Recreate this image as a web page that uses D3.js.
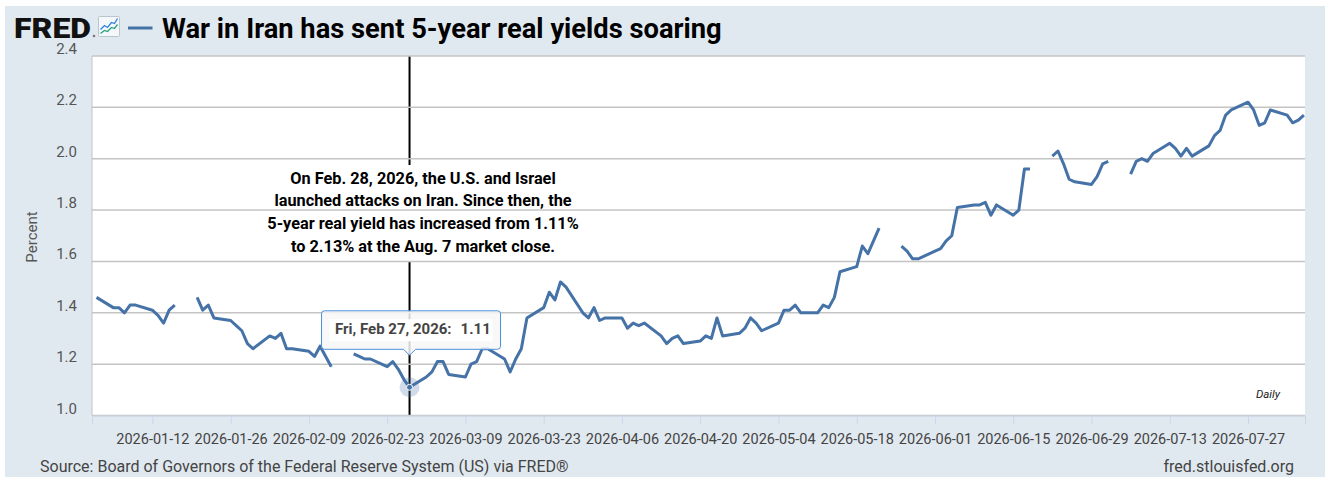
<!DOCTYPE html>
<html>
<head>
<meta charset="utf-8">
<script src="https://cdn.jsdelivr.net/npm/d3@7"></script>
<style>
  body { margin: 0; background: #fff; }
  svg { display: block; }
  text { font-family: Roboto, "Open Sans", sans-serif; }
</style>
</head>
<body>
<div id="chart"></div>
<script>
// business days, null = market holiday (FRED leaves a gap)
const obsDays = [
  "2026-01-02","2026-01-05","2026-01-06","2026-01-07","2026-01-08","2026-01-09",
  "2026-01-12","2026-01-13","2026-01-14","2026-01-15","2026-01-16","2026-01-19",
  "2026-01-20","2026-01-21","2026-01-22","2026-01-23","2026-01-26","2026-01-27",
  "2026-01-28","2026-01-29","2026-01-30","2026-02-02","2026-02-03","2026-02-04",
  "2026-02-05","2026-02-06","2026-02-09","2026-02-10","2026-02-11","2026-02-12",
  "2026-02-13","2026-02-16","2026-02-17","2026-02-18","2026-02-19","2026-02-20",
  "2026-02-23","2026-02-24","2026-02-25","2026-02-26","2026-02-27","2026-03-02",
  "2026-03-03","2026-03-04","2026-03-05","2026-03-06","2026-03-09","2026-03-10",
  "2026-03-11","2026-03-12","2026-03-13","2026-03-16","2026-03-17","2026-03-18",
  "2026-03-19","2026-03-20","2026-03-23","2026-03-24","2026-03-25","2026-03-26",
  "2026-03-27","2026-03-30","2026-03-31","2026-04-01","2026-04-02","2026-04-03",
  "2026-04-06","2026-04-07","2026-04-08","2026-04-09","2026-04-10","2026-04-13",
  "2026-04-14","2026-04-15","2026-04-16","2026-04-17","2026-04-20","2026-04-21",
  "2026-04-22","2026-04-23","2026-04-24","2026-04-27","2026-04-28","2026-04-29",
  "2026-04-30","2026-05-01","2026-05-04","2026-05-05","2026-05-06","2026-05-07",
  "2026-05-08","2026-05-11","2026-05-12","2026-05-13","2026-05-14","2026-05-15",
  "2026-05-18","2026-05-19","2026-05-20","2026-05-21","2026-05-22","2026-05-25",
  "2026-05-26","2026-05-27","2026-05-28","2026-05-29","2026-06-01","2026-06-02",
  "2026-06-03","2026-06-04","2026-06-05","2026-06-08","2026-06-09","2026-06-10",
  "2026-06-11","2026-06-12","2026-06-15","2026-06-16","2026-06-17","2026-06-18",
  "2026-06-19","2026-06-22","2026-06-23","2026-06-24","2026-06-25","2026-06-26",
  "2026-06-29","2026-06-30","2026-07-01","2026-07-02","2026-07-03","2026-07-06",
  "2026-07-07","2026-07-08","2026-07-09","2026-07-10","2026-07-13","2026-07-14",
  "2026-07-15","2026-07-16","2026-07-17","2026-07-20","2026-07-21","2026-07-22",
  "2026-07-23","2026-07-24","2026-07-27","2026-07-28","2026-07-29","2026-07-30",
  "2026-07-31","2026-08-03","2026-08-04","2026-08-05","2026-08-06"
];
const realYield = [
  1.46,1.42,1.42,1.40,1.43,1.43,
  1.41,1.39,1.36,1.41,1.43,null,
  1.46,1.41,1.43,1.38,1.37,1.35,
  1.33,1.28,1.26,1.31,1.30,1.32,
  1.26,1.26,1.25,1.23,1.27,1.23,
  1.19,null,1.24,1.23,1.22,1.22,
  1.19,1.21,1.18,1.14,1.11,1.15,
  1.17,1.21,1.21,1.16,1.15,1.20,
  1.21,1.26,1.26,1.22,1.17,1.22,
  1.26,1.38,1.42,1.48,1.45,1.52,
  1.50,1.40,1.38,1.42,1.37,1.38,
  1.38,1.34,1.36,1.35,1.36,1.31,
  1.28,1.30,1.31,1.28,1.29,1.31,
  1.30,1.38,1.31,1.32,1.34,1.38,
  1.36,1.33,1.36,1.41,1.41,1.43,
  1.40,1.40,1.43,1.42,1.46,1.56,
  1.58,1.66,1.63,1.68,1.73,null,
  1.66,1.64,1.61,1.61,1.64,1.65,
  1.68,1.70,1.81,1.82,1.82,1.83,
  1.78,1.82,1.78,1.80,1.96,1.96,
  null,2.01,2.03,1.98,1.92,1.91,
  1.90,1.93,1.98,1.99,null,1.94,
  1.99,2.00,1.99,2.02,2.06,2.04,
  2.01,2.04,2.01,2.05,2.09,2.11,
  2.17,2.19,2.22,2.19,2.13,2.14,
  2.19,2.17,2.14,2.15,2.17
];
const yTicks = [1.0, 1.2, 1.4, 1.6, 1.8, 2.0, 2.2, 2.4];
const xTickLabels = ["2026-01-12","2026-01-26","2026-02-09","2026-02-23","2026-03-09",
  "2026-03-23","2026-04-06","2026-04-20","2026-05-04","2026-05-18","2026-06-01",
  "2026-06-15","2026-06-29","2026-07-13","2026-07-27"];
const noteLines = [
  "On Feb. 28, 2026, the U.S. and Israel",
  "launched attacks on Iran. Since then, the",
  "5-year real yield has increased from 1.11%",
  "to 2.13% at the Aug. 7 market close."
];
const markDay = "2026-02-27";
const markLabel = "Fri, Feb 27, 2026:";

const W = 1330, H = 477;
const plot = { left: 92, right: 1305, top: 56, bottom: 415.5 };
const lineColor = "#4572a7";
const parse = d3.utcParse("%Y-%m-%d");

const data = obsDays.map((d, i) => ({ day: d, date: parse(d), v: realYield[i] }));

const svg = d3.select("#chart").append("svg")
  .attr("width", W).attr("height", H);

// page background
svg.append("rect").attr("x", 5).attr("y", 6).attr("width", 1320).attr("height", H - 6)
  .attr("fill", "#e1e9f0");

const x = d3.scaleUtc()
  .domain([Date.UTC(2026, 0, 1, 4, 40), Date.UTC(2026, 7, 6, 4, 40)])
  .range([plot.left, plot.right]);
const y = d3.scaleLinear().domain([1.0, 2.4]).range([plot.bottom, plot.top]);

// plot area
svg.append("rect")
  .attr("x", plot.left).attr("y", plot.top)
  .attr("width", plot.right - plot.left).attr("height", plot.bottom - plot.top)
  .attr("fill", "#fff");

// marker line for Feb 27
const mx = x(parse(markDay));
svg.append("line")
  .attr("x1", mx).attr("x2", mx).attr("y1", plot.top).attr("y2", plot.bottom)
  .attr("stroke", "#000").attr("stroke-width", 2);

// white box behind the note (hides the marker line)
const noteX = 423, noteY0 = 183.5, noteDy = 22.8;
svg.append("rect")
  .attr("x", noteX - 162).attr("y", 165)
  .attr("width", 324).attr("height", 96)
  .attr("fill", "#fff");

// grid
svg.append("g").selectAll("line").data(yTicks).join("line")
  .attr("x1", plot.left).attr("x2", plot.right)
  .attr("y1", d => y(d)).attr("y2", d => y(d))
  .attr("stroke", "#c4c4c4").attr("stroke-width", 1.5);

// y axis line
svg.append("line")
  .attr("x1", plot.left).attr("x2", plot.left).attr("y1", plot.top).attr("y2", plot.bottom)
  .attr("stroke", "#c4c4c4").attr("stroke-width", 1);

// y labels
svg.append("g").selectAll("text").data(yTicks).join("text")
  .attr("x", 77).attr("y", d => y(d) - 2)
  .attr("text-anchor", "end")
  .attr("font-size", 15).attr("fill", "#555")
  .text(d => d.toFixed(1));

svg.append("text")
  .attr("transform", "translate(37,237) rotate(-90)")
  .attr("text-anchor", "middle")
  .attr("font-size", 15).attr("fill", "#555")
  .text("Percent");

// x axis
const xAxis = d3.axisBottom(x)
  .tickValues(xTickLabels.map(parse))
  .tickFormat(d3.utcFormat("%Y-%m-%d"))
  .tickSize(9).tickPadding(9);
const gx = svg.append("g").attr("transform", `translate(0,${plot.bottom})`).call(xAxis);
gx.select(".domain").attr("stroke", "#ccd6eb");
gx.selectAll(".tick line").attr("stroke", "#ccd6eb");
gx.selectAll(".tick text").attr("font-size", 14.5).attr("fill", "#444")
  .attr("font-family", "Roboto, sans-serif");

// series
const line = d3.line()
  .defined(d => d.v != null)
  .x(d => x(d.date)).y(d => y(d.v));
svg.append("path").datum(data)
  .attr("d", line)
  .attr("fill", "none").attr("stroke", lineColor)
  .attr("stroke-width", 3).attr("stroke-linejoin", "round");

// note text
svg.append("g").selectAll("text").data(noteLines).join("text")
  .attr("x", noteX).attr("y", (d, i) => noteY0 + i * noteDy)
  .attr("text-anchor", "middle")
  .attr("font-family", "Lato, sans-serif").attr("font-weight", 700)
  .attr("font-size", 16.3).attr("fill", "#000")
  .text(d => d);

// hovered point
const mk = data.find(d => d.day === markDay);
svg.append("circle").attr("cx", x(mk.date)).attr("cy", y(mk.v)).attr("r", 10)
  .attr("fill", lineColor).attr("fill-opacity", 0.25);
svg.append("circle").attr("cx", x(mk.date)).attr("cy", y(mk.v)).attr("r", 3)
  .attr("fill", lineColor).attr("stroke", "#fff").attr("stroke-width", 1);

// tooltip
const tipW = 179, tipH = 38.5, tipBottom = 349.3;
const tx = mx - 88, ty = tipBottom - tipH;
const tip = svg.append("g");
tip.append("path")
  .attr("d", `M${tx + 3},${ty} H${tx + tipW - 3} Q${tx + tipW},${ty} ${tx + tipW},${ty + 3}
    V${ty + tipH - 3} Q${tx + tipW},${ty + tipH} ${tx + tipW - 3},${ty + tipH}
    H${mx + 6} L${mx},${ty + tipH + 6} L${mx - 6},${ty + tipH}
    H${tx + 3} Q${tx},${ty + tipH} ${tx},${ty + tipH - 3} V${ty + 3} Q${tx},${ty} ${tx + 3},${ty} Z`)
  .attr("fill", "rgba(247,247,247,0.85)")
  .attr("stroke", "#4a90d9").attr("stroke-width", 1);
tip.append("rect").attr("x", tx + 8).attr("y", ty + 8.5)
  .attr("width", tipW - 16).attr("height", 22).attr("fill", "#fff");
const tt = tip.append("text").attr("x", tx + 13.5).attr("y", ty + 23.5)
  .attr("font-size", 15).attr("font-weight", 700).attr("fill", "#444");
tt.append("tspan").text(markLabel);
tt.append("tspan").attr("dx", 9).text(mk.v.toFixed(2));

// frequency note
svg.append("text").attr("x", 1280).attr("y", 398)
  .attr("text-anchor", "end").attr("font-size", 11.5).attr("font-style", "italic")
  .attr("fill", "#222").text("Daily");

// header: logo, icon, legend dash, title
svg.append("text").attr("x", 14).attr("y", 37.5)
  .attr("font-family", "Roboto, sans-serif").attr("font-weight", 900)
  .attr("font-size", 28).attr("textLength", 77).attr("lengthAdjust", "spacingAndGlyphs")
  .attr("fill", "#111").text("FRED");
svg.append("circle").attr("cx", 94).attr("cy", 36).attr("r", 1.3).attr("fill", "#777");
const icon = svg.append("g").attr("transform", "translate(98.5,16.5)");
icon.append("rect").attr("width", 21).attr("height", 20).attr("rx", 1)
  .attr("fill", "#f5f8fb").attr("stroke", "#b9c4cf");
icon.append("polyline").attr("points", "2,13 6,9 9,11 13,6 16,7 19,2")
  .attr("fill", "none").attr("stroke", "#2f7de1").attr("stroke-width", 1.3);
icon.append("polyline").attr("points", "2,17 6,14 9,15 13,11 16,12 19,8")
  .attr("fill", "none").attr("stroke", "#27a37c").attr("stroke-width", 1.3);
svg.append("line").attr("x1", 128).attr("x2", 152.5).attr("y1", 28).attr("y2", 28)
  .attr("stroke", lineColor).attr("stroke-width", 3);
svg.append("text").attr("x", 162).attr("y", 38.3)
  .attr("font-family", "Lato, sans-serif").attr("font-weight", 700)
  .attr("font-size", 27.3).attr("fill", "#000")
  .text("War in Iran has sent 5-year real yields soaring");

// footer
svg.append("text").attr("x", 40).attr("y", 471.5)
  .attr("font-size", 16).attr("fill", "#444")
  .text("Source: Board of Governors of the Federal Reserve System (US) via FRED®");
svg.append("text").attr("x", 1294).attr("y", 471.5).attr("text-anchor", "end")
  .attr("font-size", 16).attr("fill", "#444")
  .text("fred.stlouisfed.org");
</script>
</body>
</html>
